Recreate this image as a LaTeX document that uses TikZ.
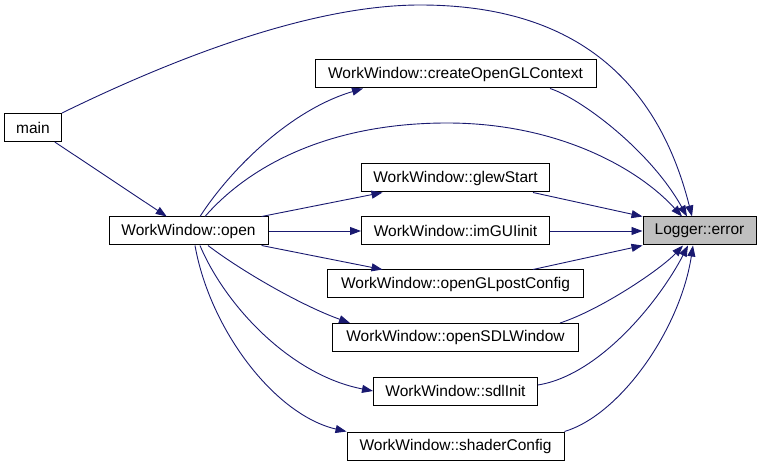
\documentclass[tikz,border=0pt]{standalone}
\usepackage{fontspec}
\setmainfont{Liberation Sans}
\usetikzlibrary{arrows.meta}
\definecolor{callblue}{RGB}{25,25,112}

\begin{document}
\begin{tikzpicture}[x=1pt, y=-1pt, >={Triangle[length=11pt,width=8pt]},
    fn/.style={draw=black, fill=white, line width=1pt, minimum height=28pt, inner sep=0pt,
               font=\fontsize{15.5}{18}\selectfont},
    hit/.style={fn, fill=black!25},
    call/.style={->, color=callblue, line width=0.9pt}]
  \useasboundingbox (0,0) rectangle (761,465);
  % callers
  \node[fn, minimum width=57pt] (main) at (33,127.5) {main};
  \node[fn, minimum width=159pt] (open) at (188.5,231) {WorkWindow::open};
  % functions called by open
  \foreach \n/\y/\w/\f in {ctx/74/281/createOpenGLContext, glew/178/188/glewStart,
      imgui/231/188/imGUIinit, postcfg/284/256/openGLpostConfig, sdlwin/337.5/246/openSDLWindow,
      sdlinit/391/164/sdlInit, shader/446/217/shaderConfig}
    \node[fn, minimum width=\w pt] (\n) at (455.5,\y) {WorkWindow::\f};
  % the documented function
  \node[hit, minimum width=113pt] (error) at (699.5,231) {Logger::error};
  % straight calls
  \foreach \a/\b in {main/open, open/glew, open/imgui, open/postcfg, imgui/error}
    \draw[call] (\a) -- (\b);
  % curved calls out of open
  \draw[call] (open.north -| 200,0) .. controls (230,170) and (290,110) .. (ctx.south -| 363,0);
  \draw[call] (open.south -| 208,0) .. controls (240,270) and (300,305) .. (sdlwin.north -| 350,0);
  \draw[call] (open.south -| 200,0) .. controls (225,305) and (290,375) .. (sdlinit.west);
  \draw[call] (open.south -| 195,0) .. controls (210,330) and (275,415) .. (shader.north west);
  % calls into error
  \draw[call] (main.north east) .. controls (150,70) and (300,5) .. (420,5)
       .. controls (540,5) and (650,50) .. (error.north -| 692,0);
  \draw[call] (open.north -| 205,0) .. controls (250,165) and (330,123) .. (447,123)
       .. controls (560,123) and (640,170) .. (error.north -| 682,0);
  \draw[call] (ctx.south -| 550,0) .. controls (580,98) and (650,150) .. (error.north -| 687,0);
  \draw[call] (glew.south -| 533,0) -- (error.north west);
  \draw[call] (postcfg.north -| 533,0) -- (error.south west);
  \draw[call] (sdlwin.north -| 560,0) .. controls (600,310) and (660,270) .. (error.south -| 683,0);
  \draw[call] (sdlinit.east |- 0,385) .. controls (600,375) and (660,300) .. (error.south -| 688,0);
  \draw[call] (shader.north east) .. controls (620,415) and (680,330) .. (error.south -| 693,0);
\end{tikzpicture}
\end{document}
